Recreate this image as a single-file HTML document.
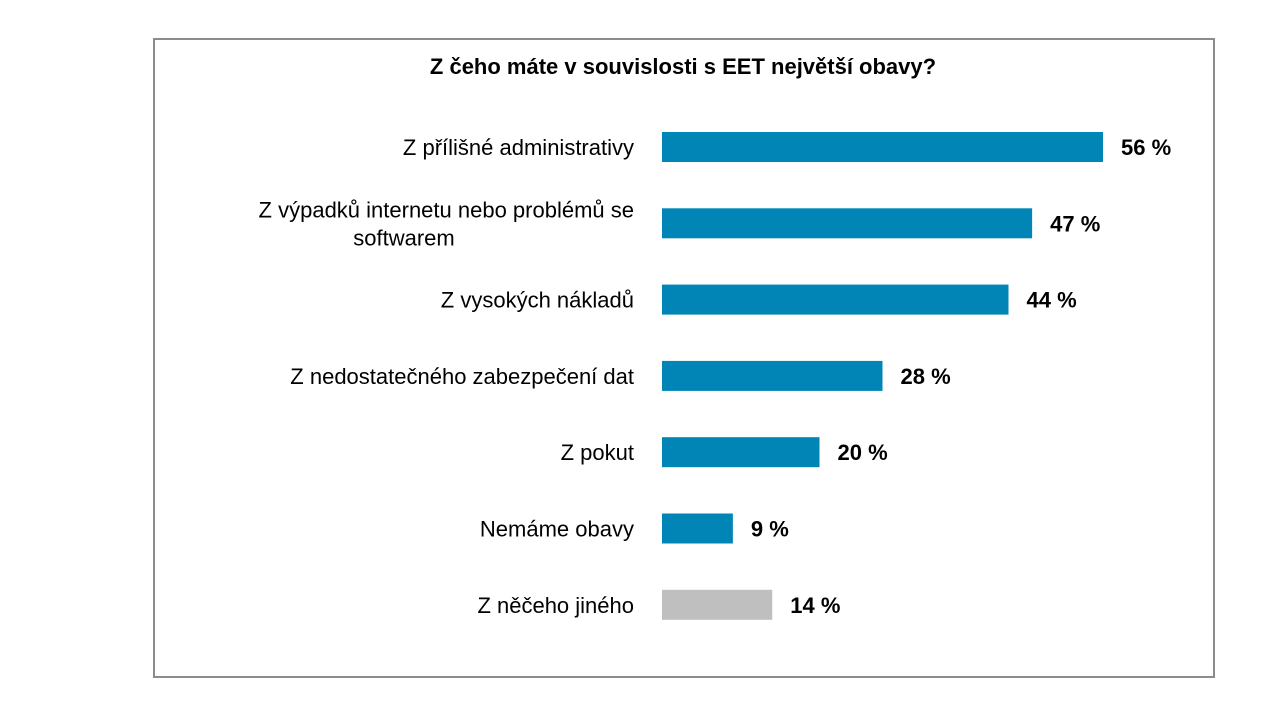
<!DOCTYPE html>
<html><head><meta charset="utf-8">
<style>
html,body{margin:0;padding:0;background:#fff;}
body{width:1280px;height:720px;position:relative;overflow:hidden;font-family:"Liberation Sans",Arial,sans-serif;}
#frame{position:absolute;left:153px;top:38px;width:1058px;height:636px;border:2px solid #8c8c8c;}
</style></head>
<body>
<div id="frame"></div>
<svg id="chart" width="1280" height="720" style="position:absolute;left:0;top:0">
<text x="683" y="74" text-anchor="middle" font-size="22" font-weight="bold" fill="#000" font-family="Liberation Sans, Arial, sans-serif">Z čeho máte v souvislosti s EET největší obavy?</text>
<g id="bars"></g>
</svg>
<script>
const categories = [
  ["Z příliš­né administrativy"],
  ["Z výpadků internetu nebo problémů se","softwarem"],
  ["Z vysokých nákladů"],
  ["Z nedostatečného zabezpečení dat"],
  ["Z pokut"],
  ["Nemáme obavy"],
  ["Z něčeho jiného"]
];
categories[0] = ["Z přílišné administrativy"];
const values = [56, 47, 44, 28, 20, 9, 14];
const valueLabels = ["56 %", "47 %", "44 %", "28 %", "20 %", "9 %", "14 %"];
const isOther = [false, false, false, false, false, false, true];

const x0 = 662, pxPerPct = 441/56;
const xScale = v => x0 + v * pxPerPct;
const rowTop = 147, rowStep = 76.3, barH = 30;
const yCenter = i => rowTop + i * rowStep;
const NS = "http://www.w3.org/2000/svg";
const g = document.getElementById("bars");

values.forEach((v, i) => {
  const cy = yCenter(i);
  const r = document.createElementNS(NS, "rect");
  r.setAttribute("x", x0);
  r.setAttribute("y", cy - barH/2);
  r.setAttribute("width", xScale(v) - x0);
  r.setAttribute("height", barH);
  r.setAttribute("fill", isOther[i] ? "#bfbfbf" : "#0085b6");
  
  
  g.appendChild(r);

  const t = document.createElementNS(NS, "text");
  t.setAttribute("x", xScale(v) + 18);
  t.setAttribute("y", cy + 8);
  t.setAttribute("font-size", "22");
  t.setAttribute("font-weight", "bold");
  t.setAttribute("fill", "#000");
  t.textContent = valueLabels[i];
  
  
  g.appendChild(t);

  const lines = categories[i];
  const lab = document.createElementNS(NS, "text");
  lab.setAttribute("text-anchor", "end");
  lab.setAttribute("font-size", "22");
  lab.setAttribute("fill", "#000");
  
  
  const lh = 28;
  const startY = cy + 8 - (lines.length - 1) * lh / 2;
  lines.forEach((ln, k) => {
    const ts = document.createElementNS(NS, "tspan");
    ts.setAttribute("x", k === 0 ? 634 : 634 - 0);
    ts.setAttribute("y", startY + k * lh);
    if (k > 0) { ts.setAttribute("text-anchor", "middle"); ts.setAttribute("x", 404); }
    ts.textContent = ln;
    lab.appendChild(ts);
  });
  g.appendChild(lab);
});
</script>
</body></html>
